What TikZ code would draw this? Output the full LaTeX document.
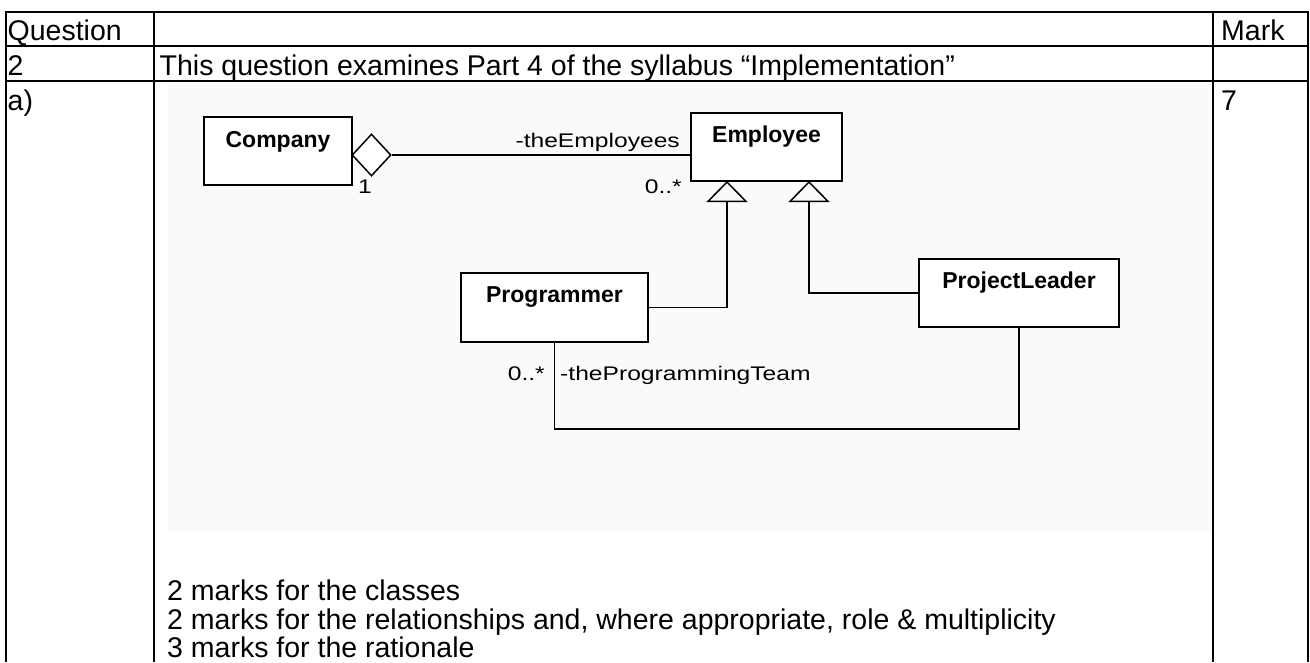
\documentclass[tikz,border=0pt]{standalone}
\usepackage{fontspec}
\setmainfont{Liberation Sans}
\newfontfamily\umlfont[FakeStretch=1.25]{Liberation Sans}
\usetikzlibrary{arrows.meta,shapes.geometric}
\begin{document}
\begin{tikzpicture}[x=1pt,y=-1pt,
  rule/.style={line width=2.2pt},
  celltext/.style={anchor=base west,inner sep=0pt,font=\fontsize{28.5}{32}\selectfont},
  classbox/.style={draw,line width=1.5pt,rectangle,inner sep=0pt,fill=white},
  classname/.style={anchor=base,inner sep=0pt,font=\fontsize{23}{26}\selectfont\bfseries},
  role/.style={inner sep=0pt,font=\umlfont\fontsize{19.7}{22}\selectfont},
  assoc/.style={line width=1.5pt},
  gen/.style={line width=1.5pt,-{Triangle[open,length=21pt,width=41pt]}},
]
\useasboundingbox (0,0) rectangle (1310,662);
\fill[white] (0,0) rectangle (1310,662);
% backdrop of the class diagram
\fill[black!2] (168,84) rectangle (1212,532);

% table rules
\draw[rule] (6,12) -- (1308,12);
\draw[rule] (6,46) -- (1308,46);
\draw[rule] (6,81) -- (1308,81);
\draw[rule] (6,11) -- (6,662);
\draw[rule] (154,11) -- (154,662);
\draw[rule] (1213,11) -- (1213,662);
\draw[rule] (1308,11) -- (1308,662);

% table cells
\node[celltext] (hq) at (7.5,40) {Question};
\node[celltext] (hm) at (1221,40) {Mark};
\node[celltext] (qn) at (7.5,75) {2};
\node[celltext] (qt) at (159.5,75) {This question examines Part 4 of the syllabus “Implementation”};
\node[celltext] (pa) at (7.5,110) {a)};
\node[celltext] (pm) at (1221,110) {7};
\node[celltext] (m1) at (167,600) {2 marks for the classes};
\node[celltext] (m2) at (167,629) {2 marks for the relationships and, where appropriate, role \& multiplicity};
\node[celltext] (m3) at (167,657.5) {3 marks for the rationale};

% classes
\node[classbox,minimum width=148pt,minimum height=68pt] (company) at (278,151) {};
\node[classname] (companyname) at (278,147) {Company};
\node[classbox,minimum width=151pt,minimum height=68pt] (employee) at (766.5,147) {};
\node[classname] (employeename) at (766.5,142) {Employee};
\node[classbox,minimum width=187pt,minimum height=69pt] (programmer) at (554.5,307.5) {};
\node[classname] (programmername) at (554.5,302) {Programmer};
\node[classbox,minimum width=200pt,minimum height=68pt] (leader) at (1019,293) {};
\node[classname] (leadername) at (1019,288) {ProjectLeader};

% aggregation Company <>-- Employee
\node[diamond,draw,line width=1.5pt,fill=white,inner sep=0pt,minimum width=39pt,minimum height=42pt] (agg) at (371.5,155) {};
\draw[assoc] (agg.east) -- (agg.east -| employee.west);
\node[role,anchor=base east] (roleemp) at (680,147) {-theEmployees};
\node[role,anchor=base east] (multemp) at (682,193) {0..*};
\node[role,anchor=base west] (multcomp) at (358,193) {1};

% generalisations
\coordinate (g1) at (727,181);
\coordinate (g2) at (809,181);
\draw[gen] (programmer.east) -| (g1);
\draw[gen] (leader.west) -| (g2);

% association ProjectLeader -- Programmer team
\coordinate (teamrow) at (0,429);
\draw[assoc] (programmer.south) -- (programmer.south |- teamrow) -| (leader.south);
\node[role,anchor=base east] (multteam) at (545,380) {0..*};
\node[role,anchor=base west] (roleteam) at (560,380) {-theProgrammingTeam};
\end{tikzpicture}
\end{document}
